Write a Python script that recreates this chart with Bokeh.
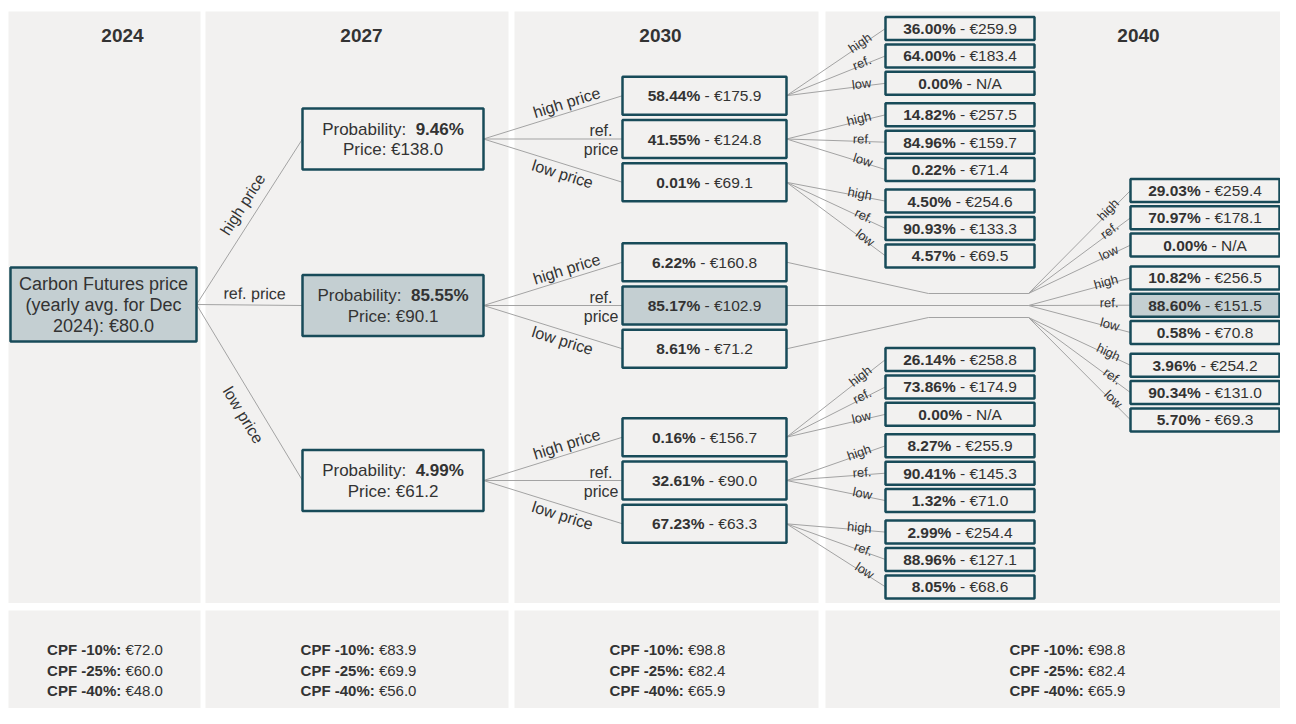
import math
from bokeh.plotting import figure
from bokeh.models import Range1d, ColumnDataSource
from bokeh.core.properties import value
from bokeh.embed import file_html
from bokeh.resources import INLINE

# ---------------- data ----------------
years = ["2024", "2027", "2030", "2040"]
root_lines = ["Carbon Futures price", "(yearly avg. for Dec", "2024): €80.0"]
branch_long = ["high price", "ref. price", "low price"]
branch_short = ["high", "ref.", "low"]

prob_2027 = ["9.46%", "85.55%", "4.99%"]
price_2027 = ["€138.0", "€90.1", "€61.2"]

prob_2030 = ["58.44%", "41.55%", "0.01%", "6.22%", "85.17%", "8.61%", "0.16%", "32.61%", "67.23%"]
price_2030 = ["€175.9", "€124.8", "€69.1", "€160.8", "€102.9", "€71.2", "€156.7", "€90.0", "€63.3"]

prob_2040 = ["36.00%", "64.00%", "0.00%", "14.82%", "84.96%", "0.22%", "4.50%", "90.93%", "4.57%",
             "29.03%", "70.97%", "0.00%", "10.82%", "88.60%", "0.58%", "3.96%", "90.34%", "5.70%",
             "26.14%", "73.86%", "0.00%", "8.27%", "90.41%", "1.32%", "2.99%", "88.96%", "8.05%"]
price_2040 = ["€259.9", "€183.4", "N/A", "€257.5", "€159.7", "€71.4", "€254.6", "€133.3", "€69.5",
              "€259.4", "€178.1", "N/A", "€256.5", "€151.5", "€70.8", "€254.2", "€131.0", "€69.3",
              "€258.8", "€174.9", "N/A", "€255.9", "€145.3", "€71.0", "€254.4", "€127.1", "€68.6"]

cpf_labels = ["CPF -10%:", "CPF -25%:", "CPF -40%:"]
cpf_2024 = ["€72.0", "€60.0", "€48.0"]
cpf_2027 = ["€83.9", "€69.9", "€56.0"]
cpf_2030 = ["€98.8", "€82.4", "€65.9"]
cpf_2040 = ["€98.8", "€82.4", "€65.9"]
cpf_values = [cpf_2024, cpf_2027, cpf_2030, cpf_2040]

REF = 1  # index of the reference branch (highlighted path)

# ---------------- style ----------------
FONT = value("Liberation Sans")
PANEL = "#F2F1F0"
BORDER = "#184B59"
HILITE = "#C4CFD2"
LINE = "#A3A3A3"
TXT = "#333333"

# ---------------- layout (screen px of the reference) ----------------
panels_x = [(8, 200), (205, 508), (514, 818), (825, 1296)]
top_y = (11, 602.5)
bot_y = (610, 724)
header_x = [122, 361, 660, 1138]
header_y = 35
cpf_x = [104.5, 358, 667, 1067]
cpf_y0, cpf_dy = 649, 20.5

root_box = (10, 196, 267, 341)
b27_l, b27_r, b27_h = 302, 483, 61
c27 = [138.5, 305, 480]
b30_l, b30_r, b30_h, p30 = 622, 786, 38, 43.3
L40 = (885, 1034)
R40 = (1130, 1279)
b40_h = 23

AW_REG = {' ': 278, '%': 889, '-': 333, '.': 278, '/': 278, ':': 278, '€': 556, 'A': 667, 'N': 722,
          'P': 667, 'C': 722, 'F': 611, 'a': 556, 'b': 556, 'c': 500, 'e': 556, 'i': 222, 'l': 222,
          'o': 556, 'r': 333, 't': 278, 'y': 500}
AW_BOLD = {' ': 278, '%': 889, '-': 333, '.': 278, '/': 278, ':': 333, '€': 556, 'A': 722, 'N': 722,
           'P': 667, 'C': 722, 'F': 611}


def tw(s, bold, size):
    tab = AW_BOLD if bold else AW_REG
    return sum(556 if ch.isdigit() else tab.get(ch, 556) for ch in s) * size / 1000.0


groups = {}


def add_text(x, y, s, size, bold=False, align="center", baseline="middle", angle=0.0):
    key = (bold, size, align, baseline)
    g = groups.setdefault(key, dict(x=[], y=[], text=[], angle=[]))
    g["x"].append(x)
    g["y"].append(-y)
    g["text"].append(s)
    g["angle"].append(angle)


def mixed(cx, cy, parts, size):
    total = sum(tw(t, b, size) for t, b in parts)
    x = cx - total / 2.0
    for t, b in parts:
        lead = len(t) - len(t.lstrip(' '))
        add_text(x + lead * 278 * size / 1000.0, cy, t.strip(), size, bold=b, align="left")
        x += tw(t, b, size)


def edge_label(x1, y1, x2, y2, s, size, t=0.5, off=0.0, align="center", baseline="middle", gap=None):
    dx, dy = x2 - x1, y2 - y1
    L = math.hypot(dx, dy)
    ux, uy = dx / L, dy / L
    nx, ny = uy, -ux
    if gap is not None:
        t = (x2 - gap - x1) / dx
    px = x1 + t * dx + off * nx
    py = y1 + t * dy + off * ny
    add_text(px, py, s, size, align=align, baseline=baseline, angle=math.atan2(-dy, dx))


seg_xs, seg_ys = [], []


def seg(pts):
    seg_xs.append([p[0] for p in pts])
    seg_ys.append([-p[1] for p in pts])


boxes = dict(left=[], right=[], top=[], bottom=[], fill=[])


def box(l, r, t, b, hl):
    boxes["left"].append(l)
    boxes["right"].append(r)
    boxes["top"].append(-t)
    boxes["bottom"].append(-b)
    boxes["fill"].append(HILITE if hl else PANEL)


# ---------------- figure ----------------
p = figure(width=1280, height=708, x_range=Range1d(0, 1280), y_range=Range1d(-708, 0),
           output_backend="svg", toolbar_location=None, min_border=0,
           x_axis_location=None, y_axis_location=None,
           background_fill_color="white", border_fill_color="white", outline_line_color=None)
p.grid.visible = False

# panels
p.quad(left=[a for a, b in panels_x] * 2, right=[b for a, b in panels_x] * 2,
       top=[-top_y[0]] * 4 + [-bot_y[0]] * 4, bottom=[-top_y[1]] * 4 + [-bot_y[1]] * 4,
       fill_color=PANEL, line_color=None)

# headers
for i, yr in enumerate(years):
    add_text(header_x[i], header_y, yr, 19, bold=True)

# CPF rows
for i, vals in enumerate(cpf_values):
    for r in range(3):
        mixed(cpf_x[i], cpf_y0 + r * cpf_dy, [(cpf_labels[r], True), (" " + vals[r], False)], 15)

# root
rl, rr, rt, rb = root_box
rcy = (rt + rb) / 2.0
box(rl, rr, rt, rb, True)
for r, line in enumerate(root_lines):
    add_text((rl + rr) / 2.0, rcy - 21 + r * 21, line, 18)

root_lab = [(0.556, 15), (0.547, 11.5), (0.578, -17)]
for j in range(3):
    seg([(rr, rcy), (b27_l, c27[j])])
    t, off = root_lab[j]
    edge_label(rr, rcy, b27_l, c27[j], branch_long[j], 16, t=t, off=off)

# 2027
b27_cx = (b27_l + b27_r) / 2.0
for j in range(3):
    c = c27[j]
    box(b27_l, b27_r, c - b27_h / 2.0, c + b27_h / 2.0, j == REF)
    mixed(b27_cx, c - 10, [("Probability:", False), ("  " + prob_2027[j], True)], 17)
    add_text(b27_cx, c + 10.5, "Price: " + price_2027[j], 17)

# 2030
c30 = []
for pi in range(3):
    for j in range(3):
        c30.append(c27[pi] + (j - 1) * p30)

b30_cx = (b30_l + b30_r) / 2.0
for pi in range(3):
    for j in range(3):
        k = pi * 3 + j
        seg([(b27_r, c27[pi]), (b30_l, c30[k])])
        if j == 0:
            edge_label(b27_r, c27[pi], b30_l, c30[k], branch_long[0], 16, t=0.62, off=10)
        elif j == 2:
            edge_label(b27_r, c27[pi], b30_l, c30[k], branch_long[2], 16, t=0.59, off=-10)
        else:
            w1, w2 = branch_long[1].split(" ")
            add_text(612, c30[k] - 8.5, w1, 16, align="right")
            add_text(618, c30[k] + 10.5, w2, 16, align="right")

for k in range(9):
    c = c30[k]
    box(b30_l, b30_r, c - b30_h / 2.0, c + b30_h / 2.0, k == 3 * REF + REF)
    mixed(b30_cx, c, [(prob_2030[k], True), (" - " + price_2030[k], False)], 15.5)

# 2040
c40, x40 = [], []
for k in range(9):
    blk, g = k // 3, k % 3
    for i in range(3):
        if blk == 0:
            c40.append(28 + g * 86.3 + i * 27.4)
            x40.append(L40)
        elif blk == 2:
            c40.append(359 + g * 86.3 + i * 27.4)
            x40.append(L40)
        else:
            c40.append(190 + g * 87.4 + i * 27.3)
            x40.append(R40)

for k in range(9):
    blk, g = k // 3, k % 3
    if blk == 1:
        ey = c27[1] + (g - 1) * 12
        if g == 1:
            seg([(b30_r, c30[k]), (1028, ey)])
        else:
            seg([(b30_r, c30[k]), (928, ey), (1028, ey)])
        sx, sy, gap = 1028, ey, 12
    else:
        sx, sy, gap = b30_r, c30[k], 14
    for i in range(3):
        n = k * 3 + i
        seg([(sx, sy), (x40[n][0], c40[n])])
        edge_label(sx, sy, x40[n][0], c40[n], branch_short[i], 13, off=2.5,
                   align="right", baseline="alphabetic", gap=gap)

for n in range(27):
    l, r = x40[n]
    c = c40[n]
    box(l, r, c - b40_h / 2.0, c + b40_h / 2.0, n == 13)
    mixed((l + r) / 2.0, c, [(prob_2040[n], True), (" - " + price_2040[n], False)], 15.5)

# draw connectors, boxes, texts
p.multi_line(xs=seg_xs, ys=seg_ys, line_color=LINE, line_width=1)
p.quad(left="left", right="right", top="top", bottom="bottom", fill_color="fill",
       line_color=BORDER, line_width=2.5, source=ColumnDataSource(boxes))

for (bold, size, align, baseline), g in groups.items():
    p.text(x="x", y="y", text="text", angle="angle", source=ColumnDataSource(g),
           text_font=FONT, text_font_size=value(f"{size}px"),
           text_font_style="bold" if bold else "normal",
           text_align=align, text_baseline=baseline, text_color=TXT)

open("out.html", "w").write(file_html(p, INLINE))
